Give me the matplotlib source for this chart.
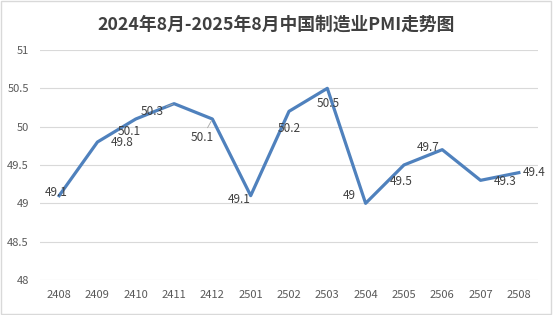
import matplotlib
matplotlib.use("Agg")
import matplotlib.pyplot as plt
from matplotlib.patches import Rectangle

plt.rcParams['font.family'] = ['Noto Sans CJK SC', 'DejaVu Sans']

categories = ['2408', '2409', '2410', '2411', '2412', '2501', '2502',
              '2503', '2504', '2505', '2506', '2507', '2508']
pmi = [49.1, 49.8, 50.1, 50.3, 50.1, 49.1, 50.2, 50.5, 49.0, 49.5, 49.7, 49.3, 49.4]
value_labels = ['49.1', '49.8', '50.1', '50.3', '50.1', '49.1', '50.2',
                '50.5', '49', '49.5', '49.7', '49.3', '49.4']
y_ticks = [48, 48.5, 49, 49.5, 50, 50.5, 51]
y_tick_labels = ['48', '48.5', '49', '49.5', '50', '50.5', '51']
title = '2024年8月-2025年8月中国制造业PMI走势图'

# label offsets in pixels (dx right, dy up)
label_offsets = [(-3, 3), (25, 0), (-7, -12), (-22, -8), (-10, -18), (-12, -4),
                 (0, -17), (1, -15), (-16, 8), (-3, -16), (-14, 2), (25, -1), (15, 0)]
leaders = [False, False, False, True, True, False, False, False, False, False, False, False, False]

fig = plt.figure(figsize=(5.53, 3.15), dpi=100)
fig.patch.set_facecolor('white')
fig.add_artist(Rectangle((0.002, 0.003), 0.995, 0.993, transform=fig.transFigure,
                         fill=False, edgecolor='#D9D9D9', linewidth=1.0))

ax = fig.add_axes([40/553, 1-280/315, 498/553, 230/315])
x = list(range(len(categories)))
ax.plot(x, pmi, color='#4F81BD', linewidth=2.3, solid_joinstyle='round', zorder=3)

ax.set_xlim(-0.5, len(categories) - 0.5)
ax.set_ylim(48, 51)
ax.set_yticks(y_ticks)
ax.set_yticklabels(y_tick_labels)
ax.set_xticks(x)
ax.set_xticklabels(categories)
ax.tick_params(axis='both', length=0, labelsize=8, labelcolor='#595959')
ax.tick_params(axis='y', pad=8)
ax.tick_params(axis='x', pad=7)
ax.grid(axis='y', color='#D9D9D9', linewidth=0.8)
ax.set_axisbelow(True)
for s in ax.spines.values():
    s.set_visible(False)

for i, (xi, yi) in enumerate(zip(x, pmi)):
    dx, dy = label_offsets[i]
    kw = {}
    if leaders[i]:
        kw['arrowprops'] = dict(arrowstyle='-', color='#A6A6A6', lw=0.6,
                                shrinkA=0, shrinkB=1)
    ax.annotate(value_labels[i], (xi, yi), xytext=(dx, dy), textcoords='offset pixels',
                ha='center', va='center', fontsize=8.5, color='#404040', zorder=4, **kw)

fig.text(0.5, 1 - 25/315, title, ha='center', va='center', fontsize=12.8,
         fontweight='bold', color='#404040')

fig.savefig('out.png', dpi=100)
